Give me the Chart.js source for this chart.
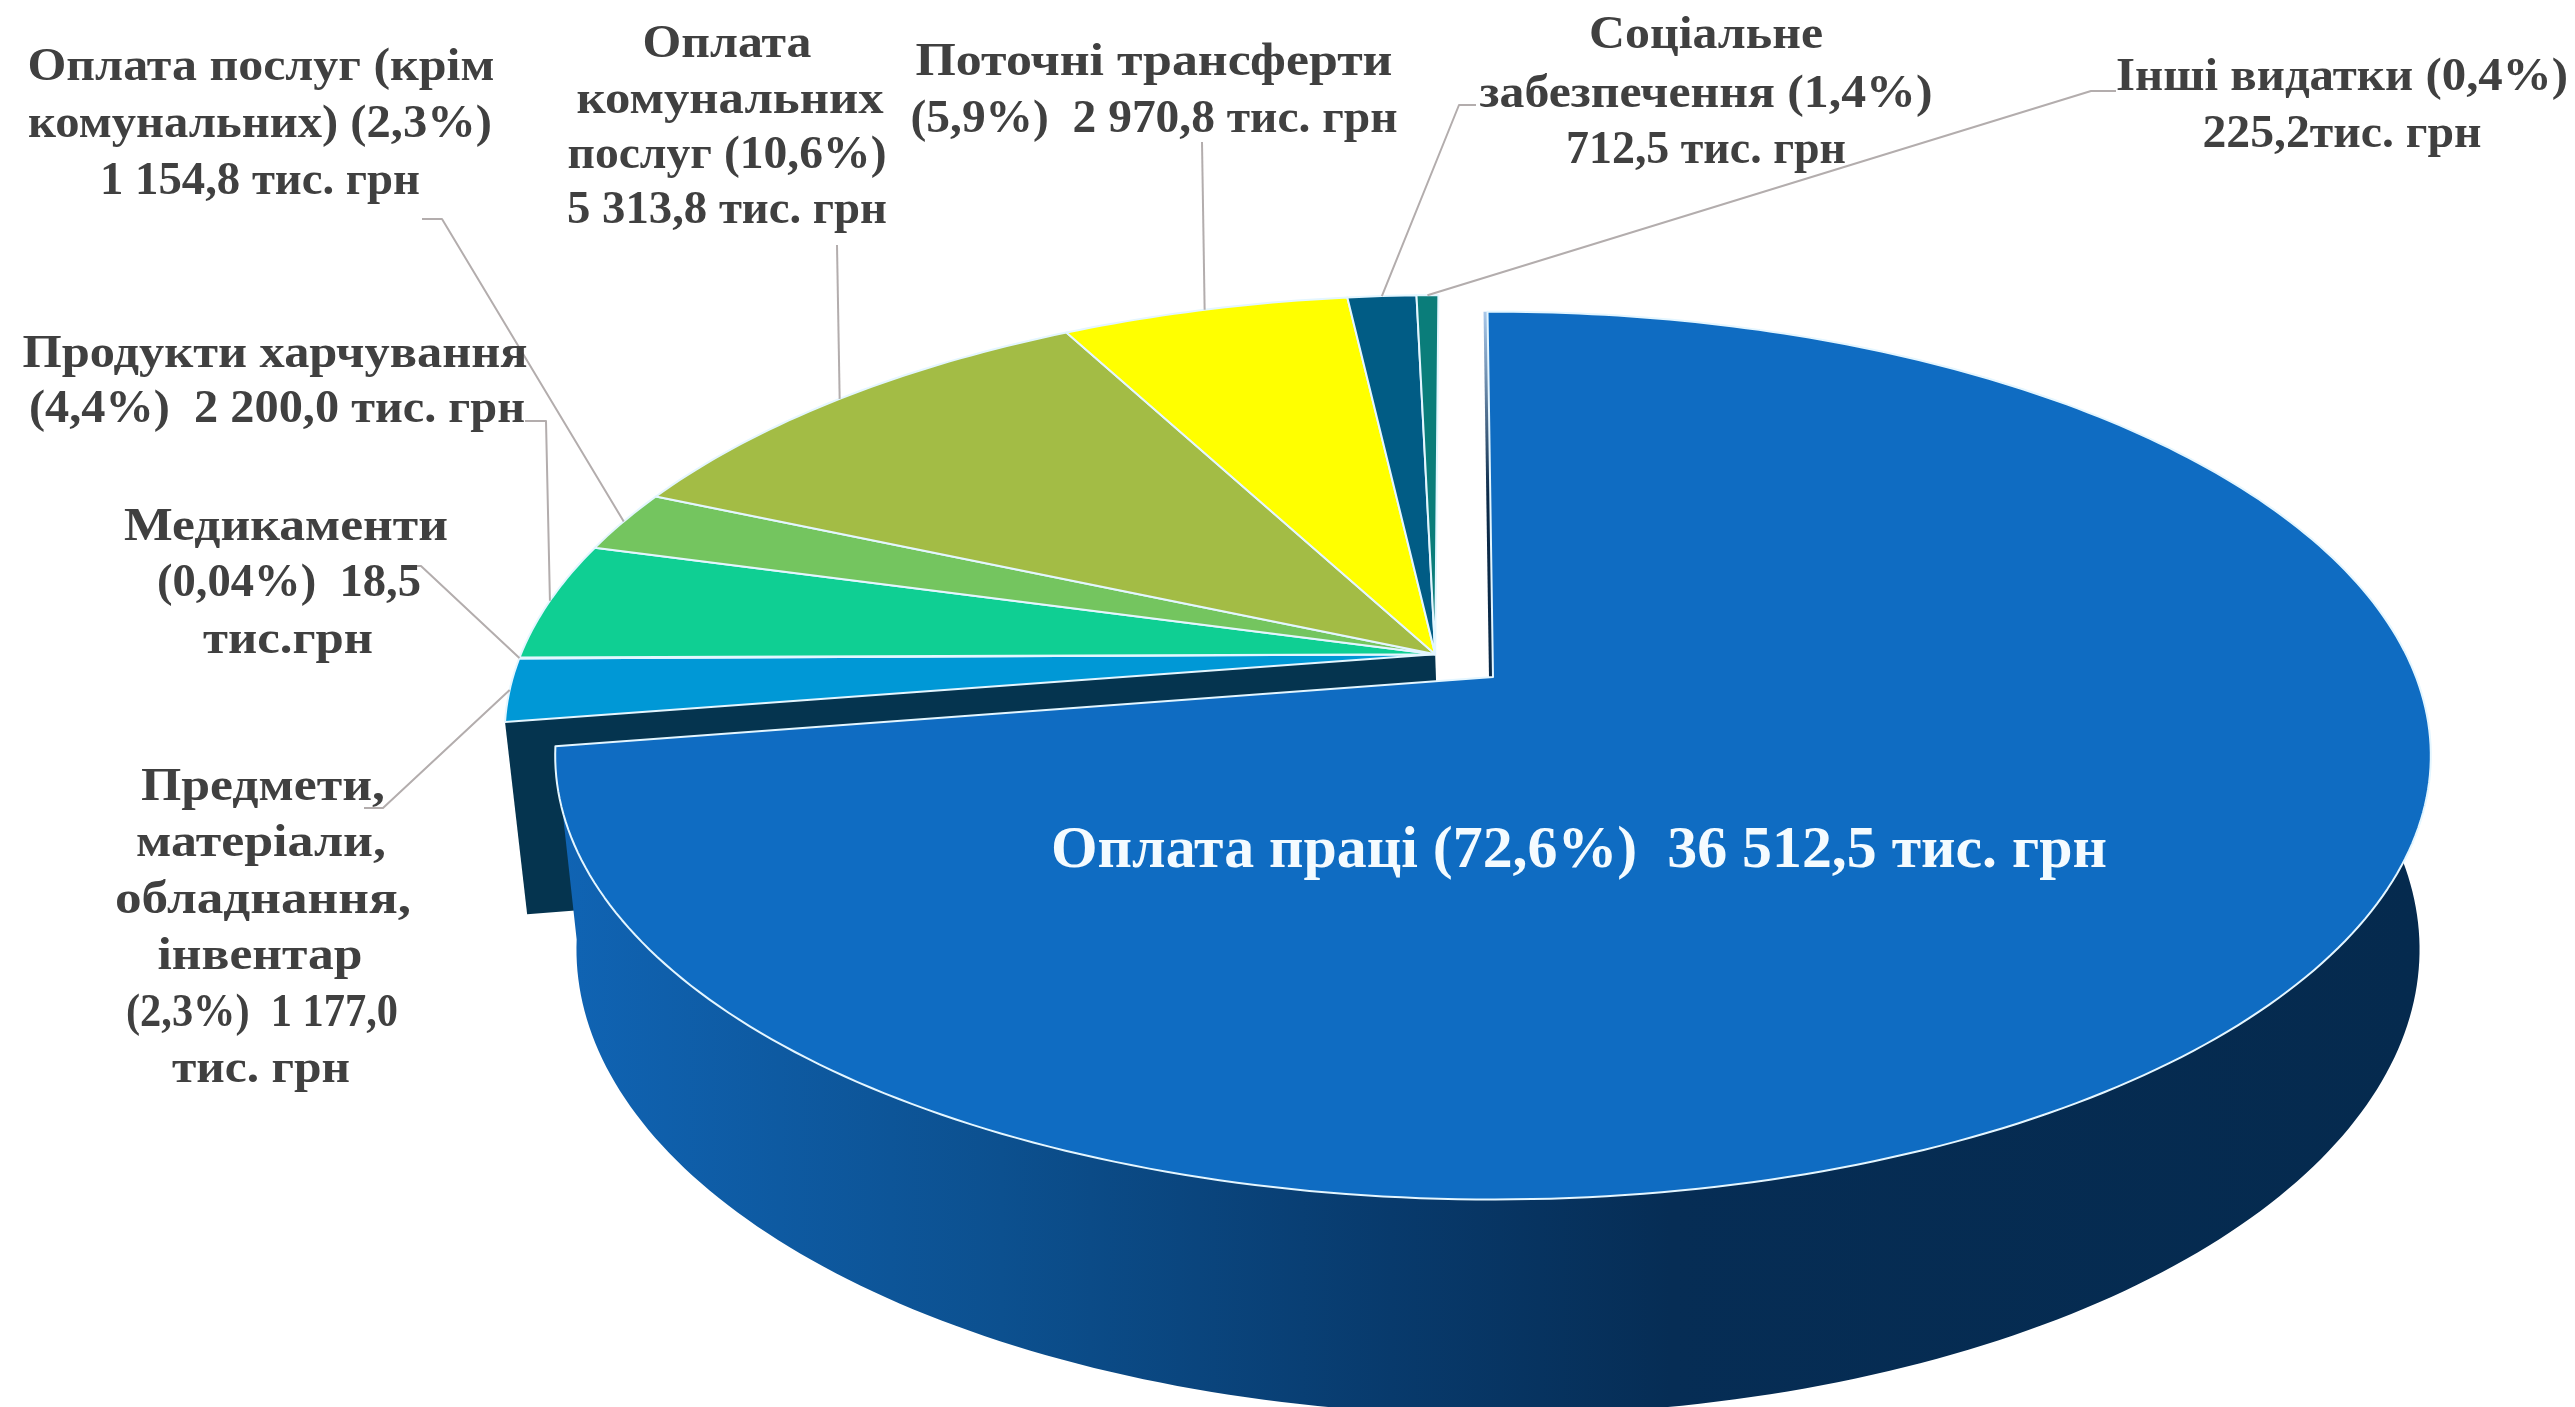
<!DOCTYPE html>
<html>
<head>
<meta charset="utf-8">
<title>Видатки</title>
<style>
  html, body { margin: 0; padding: 0; background: #fff; }
  canvas { display: block; }
</style>
<script src="https://cdn.jsdelivr.net/npm/chart.js@4"></script>
</head>
<body>
<canvas id="chartPie" width="2575" height="1407"></canvas>
<script>
// data (тис. грн)
var categories = ["Оплата праці", "Предмети, матеріали, обладнання, інвентар", "Медикаменти", "Продукти харчування",
  "Оплата послуг (крім комунальних)", "Оплата комунальних послуг", "Поточні трансферти", "Соціальне забезпечення", "Інші видатки"];
var values = [36512.5, 1177.0, 18.5, 2200.0, 1154.8, 5313.8, 2970.8, 712.5, 225.2];
var sliceColors = ["#0f6cc2", "#0098d6", "#1bb3b8", "#0fcf93", "#74c55f", "#a3bc45", "#ffff00", "#015c85", "#0a7d7a"];
var sliceOffsets = [56, 0, 0, 0, 0, 0, 0, 0, 0];

// label lines: text, centre x, baseline y, width on the picture
var labelLines = [
  ["Оплата послуг (крім", 261, 80, 467], ["комунальних) (2,3%)", 260, 137, 464], ["1 154,8 тис. грн", 260, 194, 320],
  ["Оплата", 727, 57, 169], ["комунальних", 730, 113, 307], ["послуг (10,6%)", 727, 168, 319], ["5 313,8 тис. грн", 727, 223, 320],
  ["Поточні трансферти", 1154, 75, 477], ["(5,9%)  2 970,8 тис. грн", 1154, 132, 487],
  ["Соціальне", 1706, 48, 234], ["забезпечення (1,4%)", 1706, 107, 453], ["712,5 тис. грн", 1706, 163, 280],
  ["Інші видатки (0,4%)", 2342, 90, 452], ["225,2тис. грн", 2342, 147, 279],
  ["Продукти харчування", 275, 367, 505], ["(4,4%)  2 200,0 тис. грн", 277, 422, 496],
  ["Медикаменти", 286, 540, 324], ["(0,04%)  18,5", 289, 596, 264], ["тис.грн", 288, 653, 170],
  ["Предмети,", 263, 800, 244], ["матеріали,", 261, 856, 250], ["обладнання,", 263, 913, 296],
  ["інвентар", 260, 969, 205], ["(2,3%)  1 177,0", 262, 1026, 272], ["тис. грн", 261, 1082, 178]
];
var mainLabel = ["Оплата праці (72,6%)  36 512,5 тис. грн", 1579, 867, 1056];

// leader elbows per slice index, from the label towards the rim
var leaders = {
  1: [[364, 808], [383, 808]],
  2: [[406, 566], [421, 566]],
  3: [[525, 421], [546, 421]],
  4: [[422, 219], [442, 219]],
  5: [[837, 245]],
  6: [[1202, 142]],
  7: [[1476, 105], [1459, 105]],
  8: [[2116, 91], [2091, 91]]
};

// projection of the pie disc: camera sits over the centre of the pulled out slice
var X0 = 1493, Y0 = 677, A = 923, B = 430, K = 0.177;
var BASE_X = 1498, BASE_Y = 867, BASE_A = 907, BASE_B = 451;

function projTop(u, v) {
  var w = 1 - K * v;
  return [X0 + A * u / w, Y0 + B * v / w];
}
function projBase(u, v) {
  var w = 1 - K * v;
  return [BASE_X + BASE_A * u / w, BASE_Y + BASE_B * v / w];
}

var pie3d = {
  id: 'pie3d',
  beforeDatasetDraw: function (chart, args) {
    var ctx = chart.ctx;
    var arcs = args.meta.data;
    var first = arcs[0];
    var firstHalf = (first.startAngle + first.endAngle) / 2;
    var firstOff = first.options.offset / first.outerRadius;
    var camU = Math.cos(firstHalf) * firstOff, camV = Math.sin(firstHalf) * firstOff;

    function disc(arc, angle) {
      var half = (arc.startAngle + arc.endAngle) / 2;
      var off = arc.options.offset / arc.outerRadius;
      var u = Math.cos(half) * off - camU, v = Math.sin(half) * off - camV;
      if (angle !== null) { u += Math.cos(angle); v += Math.sin(angle); }
      return [u, v];
    }
    function at(proj, arc, angle) {
      var d = disc(arc, angle);
      return proj(d[0], d[1]);
    }
    function rim(proj, arc, reverse) {
      var pts = [];
      var steps = Math.max(2, Math.ceil((arc.endAngle - arc.startAngle) * 60));
      for (var i = 0; i <= steps; i++) {
        var t = reverse ? 1 - i / steps : i / steps;
        pts.push(at(proj, arc, arc.startAngle + (arc.endAngle - arc.startAngle) * t));
      }
      return pts;
    }
    function poly(pts) {
      ctx.beginPath();
      pts.forEach(function (p, i) { if (i) ctx.lineTo(p[0], p[1]); else ctx.moveTo(p[0], p[1]); });
      ctx.closePath();
    }

    ctx.save();
    ctx.lineJoin = 'round';

    // cut face of the remaining pie, seen through the gap
    var next = arcs[1];
    poly([at(projTop, next, null), at(projTop, next, next.startAngle), at(projBase, next, next.startAngle), at(projBase, next, null)]);
    ctx.fillStyle = '#05344f';
    ctx.fill();

    // outer wall of the big slice
    var wall = ctx.createLinearGradient(555, 0, 2415, 0);
    wall.addColorStop(0, '#1064b4');
    wall.addColorStop(0.24, '#0c508f');
    wall.addColorStop(0.45, '#083a6c');
    wall.addColorStop(0.6, '#062d55');
    wall.addColorStop(1, '#052a4e');
    poly(rim(projTop, first, false).concat(rim(projBase, first, true)));
    ctx.fillStyle = wall;
    ctx.fill();

    // thin dark edge left of the big slice's start
    var edgeTop = at(projTop, first, first.startAngle), edgeApex = at(projTop, first, null);
    var edge = ctx.createLinearGradient(0, edgeTop[1], 0, edgeApex[1]);
    edge.addColorStop(0, '#a9c8ea');
    edge.addColorStop(0.5, '#0b2a48');
    edge.addColorStop(1, '#0b2a48');
    ctx.strokeStyle = edge;
    ctx.lineWidth = 4;
    ctx.beginPath();
    ctx.moveTo(edgeTop[0] - 2, edgeTop[1]);
    ctx.lineTo(edgeApex[0] - 2, edgeApex[1]);
    ctx.stroke();

    // top faces
    arcs.forEach(function (arc, i) {
      poly([at(projTop, arc, null)].concat(rim(projTop, arc, false)));
      ctx.fillStyle = sliceColors[i];
      ctx.fill();
      ctx.strokeStyle = '#e4f6ff';
      ctx.lineWidth = 2;
      ctx.stroke();
    });

    // leader lines
    ctx.strokeStyle = '#b3adad';
    ctx.lineWidth = 2;
    Object.keys(leaders).forEach(function (key) {
      var arc = arcs[key];
      var end = at(projTop, arc, (arc.startAngle + arc.endAngle) / 2);
      ctx.beginPath();
      leaders[key].forEach(function (p, i) { if (i) ctx.lineTo(p[0], p[1]); else ctx.moveTo(p[0], p[1]); });
      ctx.lineTo(end[0], end[1]);
      ctx.stroke();
    });

    // labels, squeezed to the width they have on the picture
    function drawLine(line, font, color) {
      ctx.font = font;
      ctx.fillStyle = color;
      ctx.textAlign = 'center';
      ctx.textBaseline = 'alphabetic';
      var scale = line[3] / ctx.measureText(line[0]).width;
      ctx.save();
      ctx.translate(line[1], line[2]);
      ctx.scale(scale, 1);
      ctx.fillText(line[0], 0, 0);
      ctx.restore();
    }
    labelLines.forEach(function (line) { drawLine(line, 'bold 47px "Liberation Serif"', '#404040'); });
    drawLine(mainLabel, 'bold 60px "Liberation Serif"', '#f4fbff');

    ctx.restore();
    return false;
  }
};

var ctx = document.getElementById('chartPie').getContext('2d');
var chart = new Chart(ctx, {
  type: 'pie',
  data: {
    labels: categories,
    datasets: [{
      data: values,
      backgroundColor: sliceColors,
      offset: sliceOffsets,
      borderWidth: 0
    }]
  },
  options: {
    responsive: false,
    animation: false,
    rotation: -0.4,
    plugins: {
      legend: { display: false },
      tooltip: { enabled: false }
    }
  },
  plugins: [pie3d]
});
</script>
</body>
</html>
